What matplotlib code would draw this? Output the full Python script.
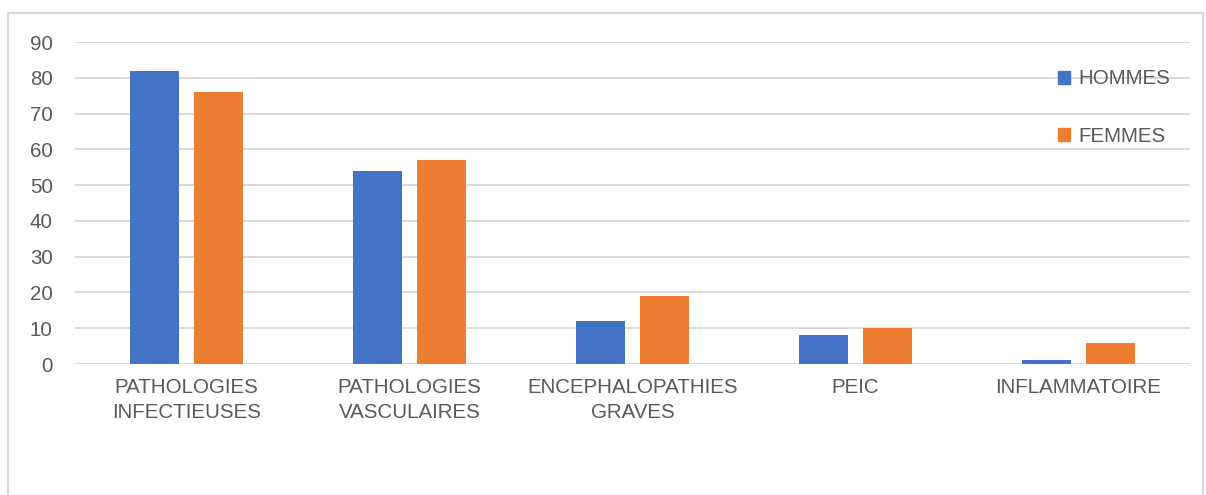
import matplotlib.pyplot as plt
import numpy as np
from matplotlib.patches import Patch
from matplotlib.lines import Line2D

# Données
categories = ['PATHOLOGIES\nINFECTIEUSES', 'PATHOLOGIES\nVASCULAIRES',
              'ENCEPHALOPATHIES\nGRAVES', 'PEIC', 'INFLAMMATOIRE']
hommes = [82, 54, 12, 8, 1]
femmes = [76, 57, 19, 10, 6]
yticks = [0, 10, 20, 30, 40, 50, 60, 70, 80, 90]

blue = '#4472C4'
orange = '#ED7D31'
grey_text = '#595959'
grid_col = '#D9D9D9'

plt.rcParams['font.family'] = ['Liberation Sans', 'DejaVu Sans']
fs = 14.8

fig = plt.figure(figsize=(12.06, 4.95), dpi=100)
ax = fig.add_axes([75 / 1206, 1 - 364 / 495, 1115 / 1206, 322 / 495])

x = np.arange(len(categories))
w = 0.224
off = 0.1435
ax.bar(x - off, hommes, w, color=blue, label='HOMMES', zorder=3)
ax.bar(x + off, femmes, w, color=orange, label='FEMMES', zorder=3)

ax.set_xlim(-0.5, len(categories) - 0.5)
ax.set_ylim(0, 90)
ax.set_yticks(yticks)
ax.yaxis.grid(True, color=grid_col, linewidth=1.4, zorder=0)
for s in ax.spines.values():
    s.set_visible(False)
ax.tick_params(axis='both', length=0, colors=grey_text, labelsize=fs)
ax.tick_params(axis='y', pad=16)
ax.tick_params(axis='x', pad=10)
ax.set_xticks(x)
ax.set_xticklabels(categories, linespacing=1.42)

handles = [Patch(color=blue), Patch(color=orange)]
ax.legend(handles, ['HOMMES', 'FEMMES'], loc='upper left',
          bbox_to_anchor=(0.8816, 0.915), frameon=False, fontsize=fs,
          labelcolor=grey_text, handlelength=0.58, handleheight=0.58,
          handletextpad=0.4, labelspacing=1.88, borderpad=0, borderaxespad=0)

# cadre du graphique
bc = '#D9D9D9'
fx0, fx1, fy1 = 8 / 1206, 1203 / 1206, 1 - 13 / 495
fig.add_artist(Line2D([fx0, fx1], [fy1, fy1], color=bc, linewidth=1.5))
fig.add_artist(Line2D([fx0, fx0], [0, fy1], color=bc, linewidth=1.5))
fig.add_artist(Line2D([fx1, fx1], [0, fy1], color=bc, linewidth=1.5))

fig.savefig('out.png', dpi=100)
